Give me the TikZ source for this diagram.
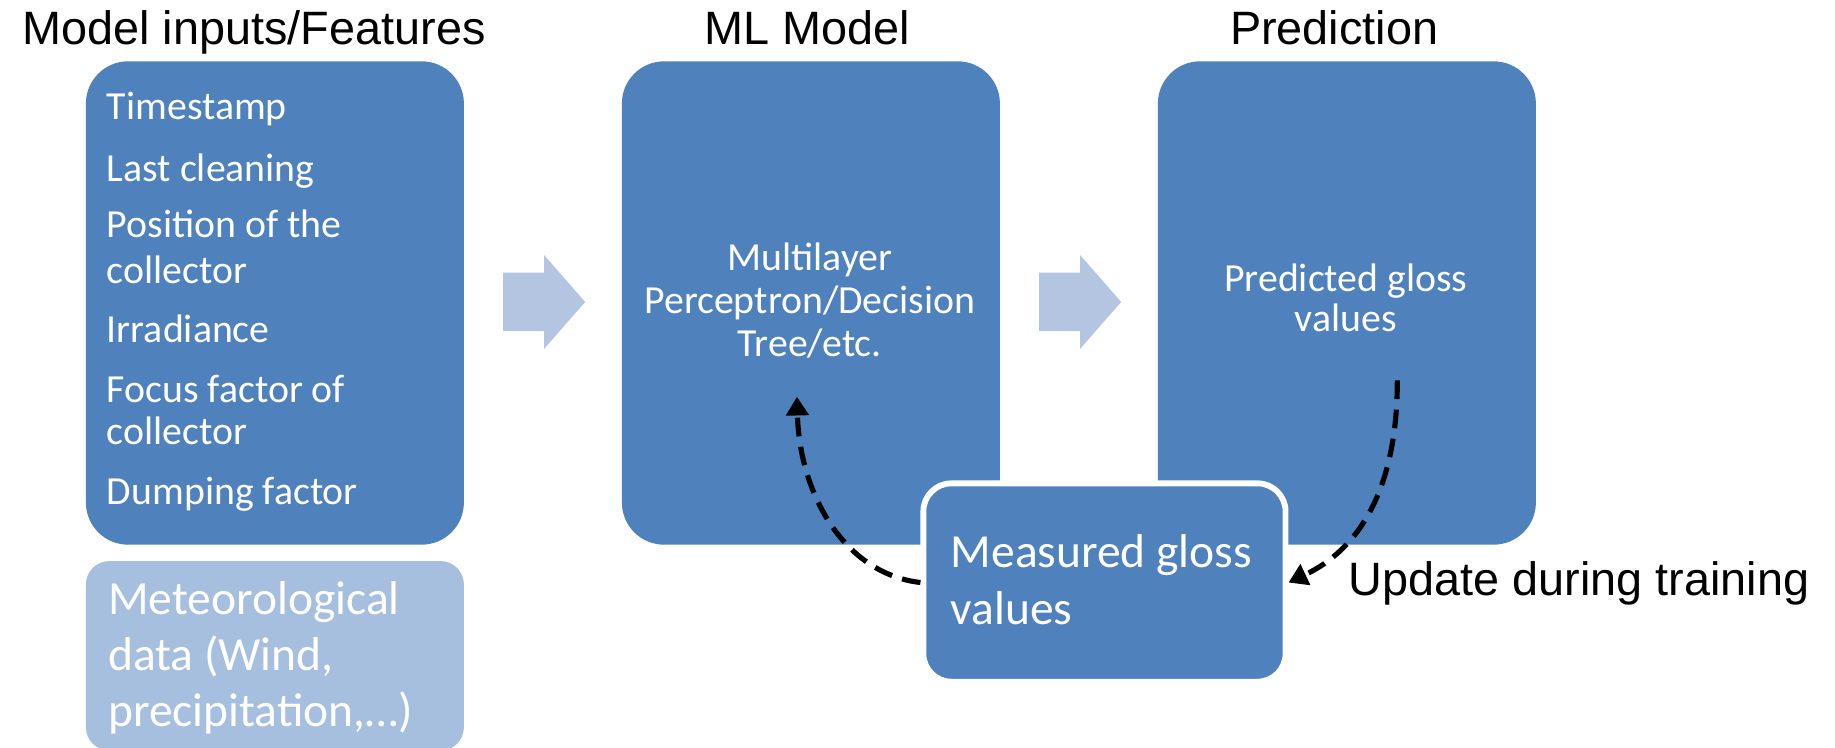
\documentclass[tikz,border=0pt]{standalone}
\usepackage{fontspec}
\setmainfont{Carlito}
\newfontfamily\arialfont{Liberation Sans}
\usepackage{tikz}
\usetikzlibrary{arrows.meta, positioning, calc}
\definecolor{boxblue}{RGB}{79,129,189}
\definecolor{paleblue}{RGB}{167,191,222}
\definecolor{arrowblue}{RGB}{180,197,225}

\begin{document}
\begin{tikzpicture}[
    x=0.5pt, y=-0.5pt,
    block/.style={rectangle, fill=boxblue, rounded corners=18pt, minimum width=161.5pt, minimum height=206.5pt, inner sep=0pt, anchor=north west},
    heading/.style={font=\arialfont\fontsize{20}{24}\selectfont, anchor=base, inner sep=0pt},
    feature/.style={font=\fontsize{17}{20}\selectfont, text=white, anchor=base west, inner sep=0pt},
    inbox/.style={font=\fontsize{17}{20}\selectfont, text=white, anchor=base, inner sep=0pt},
    bigtext/.style={font=\fontsize{20.3}{24}\selectfont, text=white, anchor=base west, inner sep=0pt},
    fatarrow/.style={fill=arrowblue},
    feedback/.style={-{Triangle[length=8pt, width=9.5pt]}, line width=2.2pt, dash pattern=on 8pt off 4.5pt},
]
\useasboundingbox (0,0) rectangle (1568,639);

% column headings
\node[heading] (t1) at (217,38) {Model inputs/Features};
\node[heading] (t2) at (690,38) {ML Model};
\node[heading] (t3) at (1140,38) {Prediction};

% boxes
\node[block] (feat) at (73,52) {};
\node[block, fill=paleblue, rounded corners=10pt, minimum height=81pt] (meteo) at (73,479) {};
\node[block] (ml) at (531,52) {};
\node[block] (pred) at (989,52) {};

% inputs
\node[feature] (f1) at (91,102) {Timestamp};
\node[feature] (f2) at (91,155) {Last cleaning};
\node[feature] (f3) at (91,203) {Position of the};
\node[feature] (f3b) at (91,242) {collector};
\node[feature] (f4) at (91,293) {Irradiance};
\node[feature] (f5) at (91,344) {Focus factor of};
\node[feature] (f5b) at (91,380) {collector};
\node[feature] (f6) at (91,431) {Dumping factor};

\node[bigtext] (m1) at (92,525) {Meteorological};
\node[bigtext] (m2) at (92,573) {data (Wind,};
\node[bigtext] (m3) at (92,621) {precipitation,…)};

% model and prediction
\node[inbox] (ml1) at (692,231) {Multilayer};
\node[inbox] (ml2) at (692,268) {Perceptron/Decision};
\node[inbox] (ml3) at (692,305) {Tree/etc.};
\node[inbox] (p1) at (1150,249) {Predicted gloss};
\node[inbox] (p2) at (1150,283) {values};

% block arrows
\fill[fatarrow] (430,233) -- (465,233) -- (465,218) -- (500,258) -- (465,298) -- (465,283) -- (430,283) -- cycle;
\fill[fatarrow] (888,233) -- (923,233) -- (923,218) -- (958,258) -- (923,298) -- (923,283) -- (888,283) -- cycle;

% measured values
\node[block, draw=white, line width=2.5pt, rounded corners=12pt, minimum width=154.75pt, minimum height=84.75pt] (meas) at (786.5,410.5) {};
\node[bigtext] (g1) at (812,485) {Measured gloss};
\node[bigtext] (g2) at (812,534) {values};
\node[heading, anchor=base west] (upd) at (1152,509) {Update during training};

% feedback loop
\coordinate (predout) at (1194,325);
\coordinate (mlin) at (681,339);
\draw[feedback] (predout) .. controls (1194,420) and (1160,470) .. (meas.east);
\draw[feedback] (meas.west) .. controls (720,490) and (683,420) .. (mlin);
\end{tikzpicture}
\end{document}
